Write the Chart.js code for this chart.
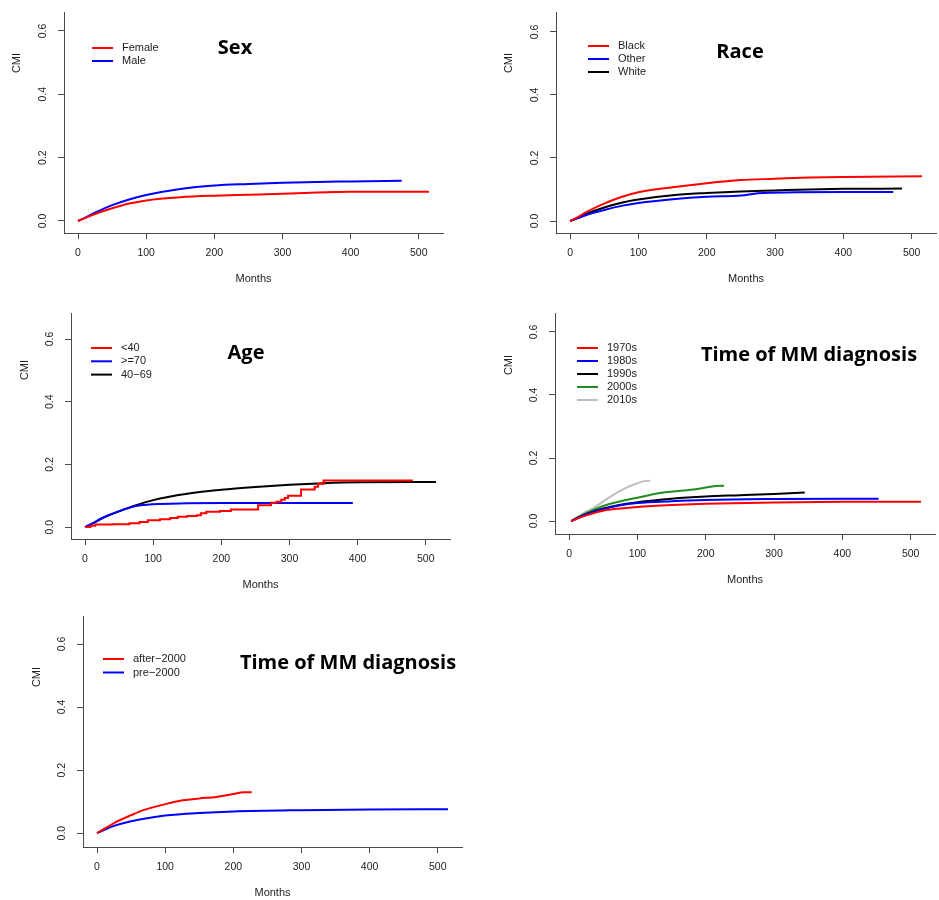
<!DOCTYPE html>
<html lang="en">
  <head>
    <meta charset="UTF-8" />
    <title>Cumulative incidence (CMI) by subgroup</title>
    <script src="https://cdn.jsdelivr.net/npm/chart.js@4.4.1/dist/chart.umd.min.js"></script>
    <style>
      body { margin: 0; background: #fff; width: 939px; height: 900px; position: relative; overflow: hidden; }
      canvas { position: absolute; }
    </style>
  </head>
  <body>
    <canvas id="sex"></canvas>
    <canvas id="race"></canvas>
    <canvas id="age"></canvas>
    <canvas id="decade"></canvas>
    <canvas id="era"></canvas>

    <script>
      // [months, CMI]
      const female = [[0,0],[10,0.009],[25,0.022],[50,0.04],[75,0.055],[100,0.065],[150,0.075],[200,0.08],[250,0.083],[300,0.086],[350,0.09],[400,0.092],[515,0.092]];
      const male = [[0,0],[10,0.01],[25,0.026],[50,0.05],[75,0.068],[100,0.082],[150,0.101],[200,0.112],[250,0.117],[300,0.121],[400,0.125],[475,0.127]];

      const black = [[0,0],[10,0.011],[25,0.03],[50,0.055],[75,0.076],[100,0.091],[150,0.107],[200,0.12],[250,0.13],[300,0.134],[350,0.138],[400,0.14],[515,0.142]];
      const other = [[0,0],[10,0.008],[25,0.02],[50,0.035],[75,0.048],[100,0.057],[150,0.069],[200,0.077],[250,0.081],[275,0.088],[330,0.091],[400,0.092],[473,0.092]];
      const white = [[0,0],[10,0.009],[25,0.024],[50,0.043],[75,0.058],[100,0.068],[150,0.082],[200,0.089],[250,0.094],[300,0.097],[350,0.1],[400,0.102],[486,0.103]];

      const under40 = [[0,0],[8,0.004],[15,0.008],[40,0.009],[65,0.012],[80,0.016],[92,0.022],[110,0.025],[125,0.029],[136,0.033],[150,0.035],[164,0.038],[170,0.044],[178,0.049],[198,0.051],[214,0.056],[254,0.07],[273,0.078],[281,0.081],[288,0.087],[293,0.093],[298,0.1],[317,0.12],[337,0.129],[342,0.138],[350,0.149],[481,0.149]];
      const over70 = [[0,0],[10,0.011],[25,0.029],[50,0.051],[75,0.067],[100,0.073],[150,0.076],[200,0.077],[393,0.077]];
      const age4069 = [[0,0],[10,0.01],[25,0.028],[50,0.05],[75,0.07],[100,0.086],[150,0.106],[200,0.119],[250,0.128],[300,0.135],[350,0.14],[400,0.143],[515,0.144]];

      const d1970s = [[3,0],[25,0.018],[50,0.033],[75,0.04],[100,0.045],[150,0.051],[200,0.055],[300,0.059],[400,0.061],[515,0.061]];
      const d1980s = [[3,0],[25,0.021],[50,0.038],[75,0.05],[100,0.057],[150,0.063],[200,0.067],[300,0.07],[400,0.071],[453,0.071]];
      const d1990s = [[3,0],[25,0.022],[50,0.04],[75,0.052],[100,0.06],[150,0.071],[200,0.078],[250,0.082],[300,0.086],[345,0.091]];
      const d2000s = [[3,0],[25,0.025],[50,0.048],[84,0.067],[100,0.074],[133,0.089],[182,0.1],[215,0.111],[227,0.112]];
      const d2010s = [[3,0],[20,0.024],[36,0.042],[60,0.077],[84,0.106],[100,0.12],[109,0.126],[119,0.128]];

      const after2000 = [[0,0],[25,0.032],[50,0.057],[68,0.073],[100,0.092],[122,0.103],[150,0.11],[175,0.115],[200,0.124],[215,0.13],[227,0.13]];
      const pre2000 = [[0,0],[25,0.023],[50,0.038],[87,0.052],[100,0.056],[150,0.064],[200,0.069],[300,0.073],[400,0.075],[515,0.076]];

      const xTicksStep = 100;
      const yTicksStep = 0.2;

      const axisColor = "#4a4a4a";
      const textColor = "#222";
      const sans = '"Liberation Sans", Arial, sans-serif';

      // draws the panel title, the y axis label and the R-style legend
      const decor = {
        id: "decor",
        afterDraw(chart, args, o) {
          const { ctx, chartArea: a } = chart;
          ctx.save();
          ctx.fillStyle = textColor;
          ctx.font = "11px " + sans;
          ctx.textAlign = "center";
          ctx.textBaseline = "middle";
          ctx.save();
          ctx.translate(a.left + o.ylab[0], a.top + o.ylab[1]);
          ctx.rotate(-Math.PI / 2);
          ctx.fillText("CMI", 0, 0);
          ctx.restore();

          ctx.textAlign = "left";
          chart.data.datasets.forEach((ds, i) => {
            const y = a.top + o.legend[1] + i * o.legend[2];
            const x = a.left + o.legend[0];
            ctx.strokeStyle = ds.borderColor;
            ctx.lineWidth = 2;
            ctx.beginPath();
            ctx.moveTo(x, y);
            ctx.lineTo(x + 21, y);
            ctx.stroke();
            ctx.fillText(ds.label, x + 30, y);
          });

          ctx.font = 'bold 20px "Open Sans", sans-serif';
          ctx.fillStyle = "#000";
          ctx.textAlign = "center";
          ctx.fillText(o.title, a.left + o.titlePos[0], a.top + o.titlePos[1]);
          ctx.restore();
        },
      };

      const padL = 64, padT = 20, padR = 4, padB = 56;

      function line(label, color, pts, stepped) {
        return {
          label,
          data: pts.map((p) => ({ x: p[0], y: p[1] })),
          borderColor: color,
          borderWidth: 2,
          pointRadius: 0,
          fill: false,
          stepped: !!stepped,
          cubicInterpolationMode: "monotone",
        };
      }

      function panel(id, box, yRange, datasets, title, titlePos, legend, ylab) {
        const [L, T, R, B] = box;
        const cv = document.getElementById(id);
        cv.width = padL + (R - L) + padR;
        cv.height = padT + (B - T) + padB;
        cv.style.left = L - padL + "px";
        cv.style.top = T - padT + "px";
        const tickFont = { family: sans, size: 10.5 };
        new Chart(cv.getContext("2d"), {
          type: "line",
          data: { datasets },
          options: {
            responsive: false,
            animation: false,
            devicePixelRatio: 1,
            layout: { padding: { left: 0, top: padT, right: padR, bottom: 0 } },
            plugins: {
              legend: { display: false },
              tooltip: { enabled: false },
              decor: { title, titlePos, legend, ylab },
            },
            scales: {
              x: {
                type: "linear",
                min: -20.6,
                max: 535.6,
                afterFit: (s) => { s.height = padB; },
                border: { color: axisColor, width: 1 },
                grid: { drawOnChartArea: false, drawTicks: true, tickLength: 6, tickColor: axisColor },
                ticks: { stepSize: xTicksStep, includeBounds: false, maxRotation: 0, autoSkip: false, padding: 8, color: textColor, font: tickFont },
                title: { display: true, text: "Months", color: textColor, font: { family: sans, size: 11 }, padding: { top: 0, bottom: 3 } },
              },
              y: {
                min: yRange[0],
                max: yRange[1],
                afterFit: (s) => { s.width = padL; },
                border: { color: axisColor, width: 1 },
                grid: { drawOnChartArea: false, drawTicks: true, tickLength: 6, tickColor: axisColor },
                ticks: {
                  stepSize: yTicksStep,
                  includeBounds: false,
                  minRotation: 90,
                  maxRotation: 90,
                  crossAlign: "center",
                  padding: 8,
                  color: textColor,
                  font: tickFont,
                  callback: (v) => v.toFixed(1),
                },
              },
            },
          },
          plugins: [decor],
        });
      }

      panel("sex", [64, 12, 443, 233], [-0.038, 0.66],
        [line("Female", "#ff0000", female), line("Male", "#0000ff", male)],
        "Sex", [171, 36], [28, 36, 13], [-47, 51]);

      panel("race", [556, 12, 936, 233], [-0.038, 0.663],
        [line("Black", "#ff0000", black), line("Other", "#0000ff", other), line("White", "#000000", white)],
        "Race", [184, 40], [32, 34, 13], [-47, 51]);

      panel("age", [71, 313, 450, 539], [-0.038, 0.683],
        [line("<40", "#ff0000", under40, true), line(">=70", "#0000ff", over70), line("40\u221269", "#000000", age4069)],
        "Age", [175, 40], [20, 35, 13.3], [-46, 57]);

      panel("decade", [555, 313, 935, 534], [-0.041, 0.66],
        [line("1970s", "#ff0000", d1970s), line("1980s", "#0000ff", d1980s), line("1990s", "#000000", d1990s),
         line("2000s", "#228b22", d2000s), line("2010s", "#bebebe", d2010s)],
        "Time of MM diagnosis", [254, 42], [22, 35, 13], [-46, 52]);

      panel("era", [83, 616, 462, 847], [-0.044, 0.689],
        [line("after\u22122000", "#ff0000", after2000), line("pre\u22122000", "#0000ff", pre2000)],
        "Time of MM diagnosis", [265, 47], [20, 43, 13.5], [-46, 61]);
    </script>
  </body>
</html>
